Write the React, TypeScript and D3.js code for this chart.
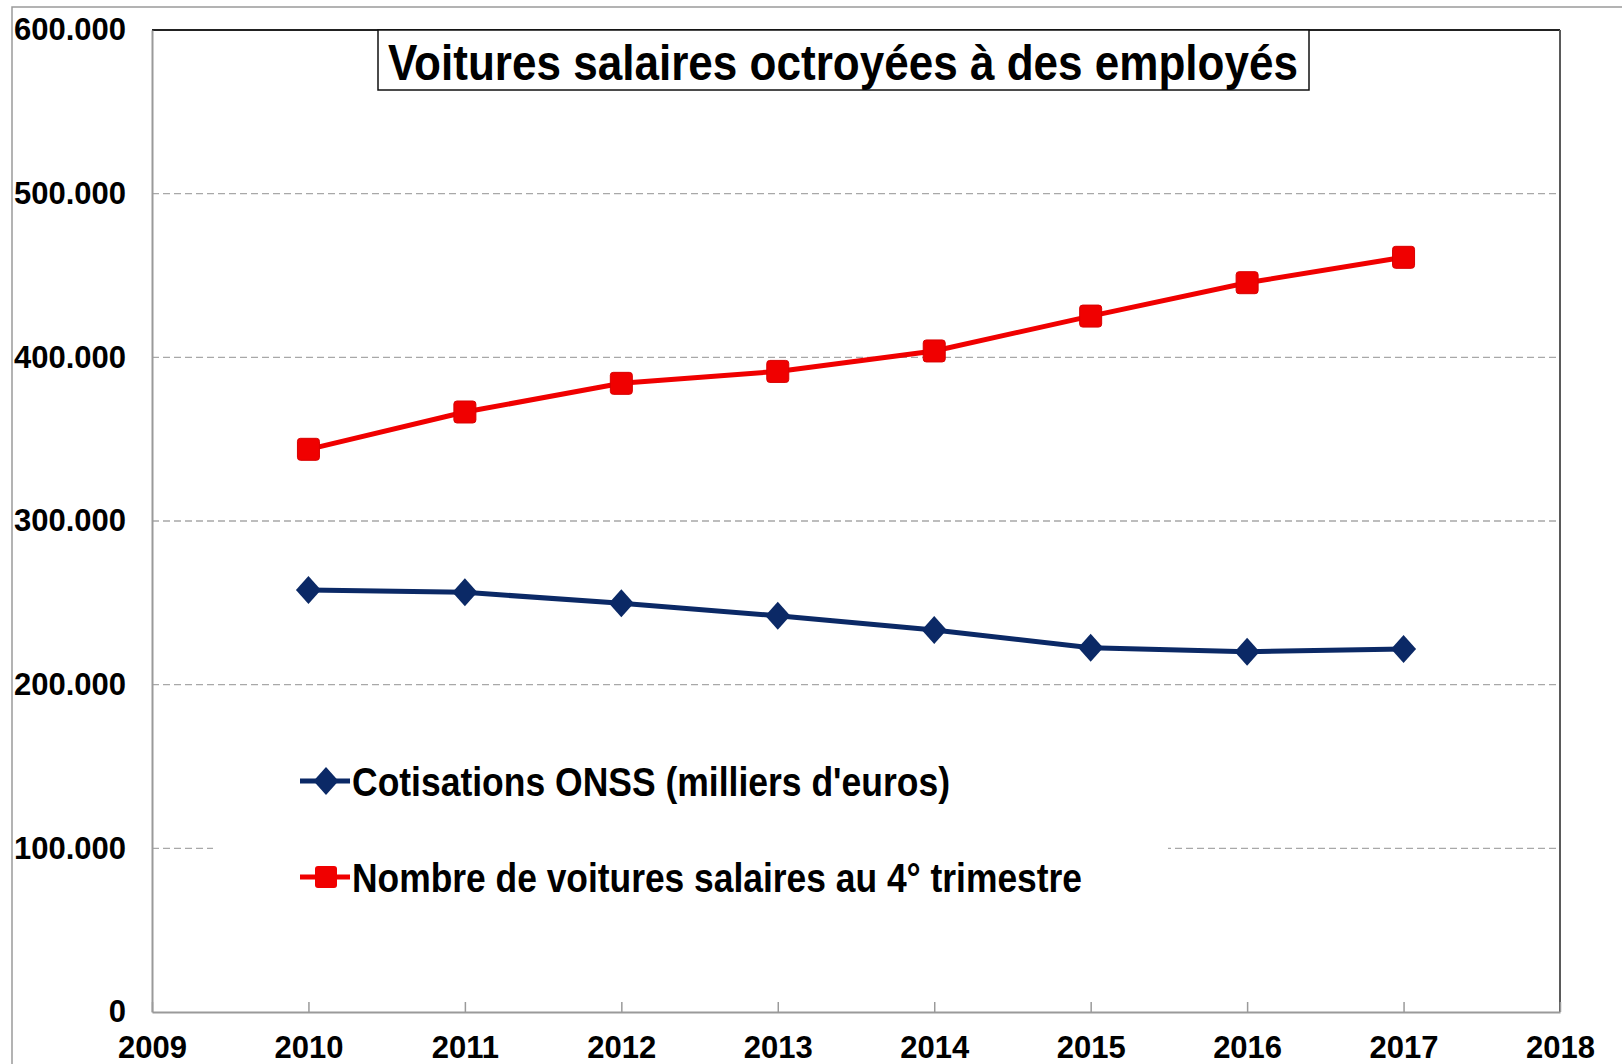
import React, { useEffect, useRef } from 'react';
import * as d3 from 'd3';

// Data
const years = [2010, 2011, 2012, 2013, 2014, 2015, 2016, 2017];
const cotisations = [257800, 256400, 249700, 242100, 233400, 222600, 220100, 221800];
const voitures = [343800, 366600, 384100, 391400, 403900, 425200, 445600, 461100];

const xTicks = [2009, 2010, 2011, 2012, 2013, 2014, 2015, 2016, 2017, 2018];
const yTicks = [0, 100000, 200000, 300000, 400000, 500000, 600000];
const gridTicks = [100000, 200000, 300000, 400000, 500000];

const chartTitle = 'Voitures salaires octroyées à des employés';
const seriesNames = ["Cotisations ONSS (milliers d'euros)", 'Nombre de voitures salaires au 4° trimestre'];

const WIDTH = 1622;
const HEIGHT = 1064;
const FONT = '"Liberation Sans", Arial, sans-serif';
const NAVY = '#0b2966';
const RED = '#f00000';

const App: React.FC = () => {
  const svgRef = useRef<SVGSVGElement>(null);

  useEffect(() => {
    if (!svgRef.current) return;
    const svg = d3.select(svgRef.current);
    svg.selectAll('*').remove();

    const margin = { top: 30, right: 62, bottom: 52, left: 152 };
    const innerWidth = WIDTH - margin.left - margin.right;
    const innerHeight = HEIGHT - margin.top - margin.bottom;

    const xScale = d3.scaleLinear().domain([2009, 2018]).range([0, innerWidth]);
    const yScale = d3.scaleLinear().domain([0, 600000]).range([innerHeight, 0]);

    const locale = d3.formatLocale({ decimal: ',', thousands: '.', grouping: [3], currency: ['', ' €'] });
    const fmt = locale.format(',d');

    // outer frame (left + top only)
    svg.append('path')
      .attr('d', `M12,${HEIGHT} V7 H${WIDTH}`)
      .attr('fill', 'none')
      .attr('stroke', '#9a9a9a')
      .attr('stroke-width', 1.5);

    const g = svg.append('g').attr('transform', `translate(${margin.left},${margin.top})`);

    // dashed grid
    g.selectAll('line.grid')
      .data(gridTicks)
      .enter()
      .append('line')
      .attr('class', 'grid')
      .attr('x1', 0)
      .attr('x2', innerWidth)
      .attr('y1', d => yScale(d))
      .attr('y2', d => yScale(d))
      .attr('stroke', '#a8a8a8')
      .attr('stroke-width', 1.3)
      .attr('stroke-dasharray', '7,4');

    // top and right plot borders
    g.append('line')
      .attr('x1', 0).attr('x2', innerWidth)
      .attr('y1', 0).attr('y2', 0)
      .attr('stroke', '#222').attr('stroke-width', 2);
    g.append('line')
      .attr('x1', innerWidth).attr('x2', innerWidth)
      .attr('y1', 0).attr('y2', innerHeight)
      .attr('stroke', '#5a5a5a').attr('stroke-width', 2);

    // y axis
    const yAxis = g.append('g')
      .call(d3.axisLeft(yScale).tickValues(yTicks).tickSize(0).tickPadding(26).tickFormat(d => fmt(d as number)));
    yAxis.select('.domain').attr('stroke', '#9a9a9a').attr('stroke-width', 2);
    yAxis.selectAll('text')
      .attr('fill', '#000')
      .style('font-family', FONT)
      .style('font-weight', 'bold')
      .style('font-size', '31px');

    // x axis, ticks pointing inward
    const xAxis = g.append('g')
      .attr('transform', `translate(0,${innerHeight})`)
      .call(d3.axisBottom(xScale).tickValues(xTicks).tickSizeInner(-10).tickSizeOuter(0).tickPadding(24).tickFormat(d => String(d)));
    xAxis.select('.domain').attr('stroke', '#9a9a9a').attr('stroke-width', 2);
    xAxis.selectAll('.tick line').attr('stroke', '#9a9a9a').attr('stroke-width', 1.5);
    xAxis.selectAll('text')
      .attr('fill', '#000')
      .style('font-family', FONT)
      .style('font-weight', 'bold')
      .style('font-size', '31px');

    // title box
    const titleBox = g.append('g');
    titleBox.append('rect')
      .attr('x', 378 - margin.left)
      .attr('y', 0)
      .attr('width', 931)
      .attr('height', 60)
      .attr('fill', '#fff')
      .attr('stroke', '#111')
      .attr('stroke-width', 1.5);
    titleBox.append('text')
      .attr('x', 843 - margin.left)
      .attr('y', 50)
      .attr('text-anchor', 'middle')
      .attr('textLength', 910)
      .attr('lengthAdjust', 'spacingAndGlyphs')
      .style('font-family', FONT)
      .style('font-weight', 'bold')
      .style('font-size', '50px')
      .text(chartTitle);

    // series
    const navyPts = years.map((yr, i) => [xScale(yr), yScale(cotisations[i])] as [number, number]);
    const redPts = years.map((yr, i) => [xScale(yr), yScale(voitures[i])] as [number, number]);
    const line = d3.line<[number, number]>();

    const diamond = (cx: number, cy: number) =>
      `M${cx},${cy - 14} L${cx + 12.5},${cy} L${cx},${cy + 14} L${cx - 12.5},${cy} Z`;

    g.append('path')
      .attr('d', line(redPts))
      .attr('fill', 'none')
      .attr('stroke', RED)
      .attr('stroke-width', 5);
    g.selectAll('rect.red')
      .data(redPts)
      .enter()
      .append('rect')
      .attr('class', 'red')
      .attr('x', d => d[0] - 11)
      .attr('y', d => d[1] - 11)
      .attr('width', 22)
      .attr('height', 22)
      .attr('rx', 3)
      .attr('fill', RED)
      .attr('stroke', '#d80000')
      .attr('stroke-width', 1);

    g.append('path')
      .attr('d', line(navyPts))
      .attr('fill', 'none')
      .attr('stroke', NAVY)
      .attr('stroke-width', 5);
    g.selectAll('path.navy')
      .data(navyPts)
      .enter()
      .append('path')
      .attr('class', 'navy')
      .attr('d', d => diamond(d[0], d[1]))
      .attr('fill', NAVY);

    // legend
    const legend = svg.append('g');
    legend.append('rect')
      .attr('x', 213)
      .attr('y', 725)
      .attr('width', 955)
      .attr('height', 185)
      .attr('fill', '#fff');

    const rows = [
      { name: seriesNames[0], color: NAVY, y: 781, len: 598, kind: 'diamond' },
      { name: seriesNames[1], color: RED, y: 877, len: 730, kind: 'square' },
    ];
    rows.forEach(r => {
      legend.append('line')
        .attr('x1', 300).attr('x2', 350)
        .attr('y1', r.y).attr('y2', r.y)
        .attr('stroke', r.color).attr('stroke-width', 5);
      if (r.kind === 'diamond') {
        legend.append('path').attr('d', diamond(326, r.y)).attr('fill', r.color);
      } else {
        legend.append('rect')
          .attr('x', 315).attr('y', r.y - 11)
          .attr('width', 22).attr('height', 22).attr('rx', 3)
          .attr('fill', r.color);
      }
      legend.append('text')
        .attr('x', 352)
        .attr('y', r.y + 15)
        .attr('textLength', r.len)
        .attr('lengthAdjust', 'spacingAndGlyphs')
        .style('font-family', FONT)
        .style('font-weight', 'bold')
        .style('font-size', '40px')
        .text(r.name);
    });
  }, []);

  return (
    <svg
      ref={svgRef}
      width={WIDTH}
      height={HEIGHT}
      style={{ position: 'absolute', left: 0, top: 0, background: '#fff' }}
    />
  );
};

export default App;
